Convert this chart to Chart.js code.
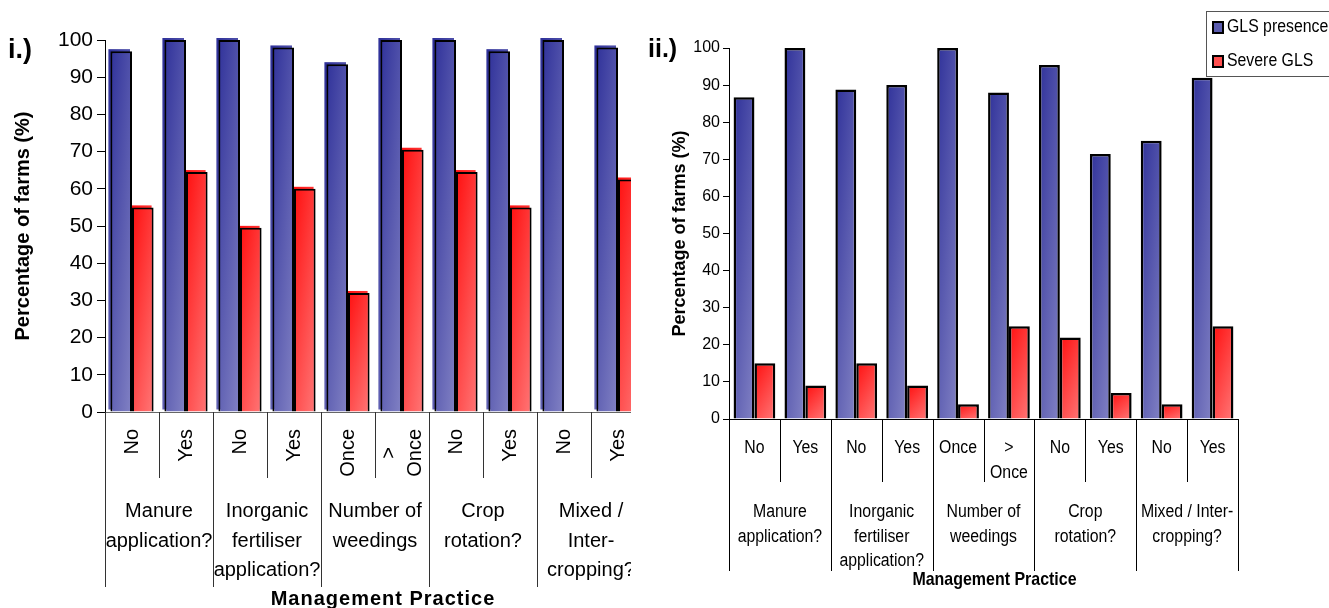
<!DOCTYPE html>
<html>
<head>
<meta charset="utf-8">
<script src="https://cdn.jsdelivr.net/npm/chart.js@4.4.1/dist/chart.umd.min.js"></script>
<style>
  html, body { margin: 0; padding: 0; background: #fff; }
  #wrapA { position: absolute; left: 0; top: 0; width: 631px; height: 608px; overflow: hidden; }
  #wrapB { position: absolute; left: 640px; top: 0; width: 689px; height: 608px; overflow: hidden; }
</style>
</head>
<body>
<div id="wrapA"><canvas id="chartA" width="660" height="608"></canvas></div>
<div id="wrapB"><canvas id="chartB" width="689" height="608"></canvas></div>
<script>
const subLabels = ["No", "Yes", "No", "Yes", "Once", [">", "Once"], "No", "Yes", "No", "Yes"];
const groupLabelsA = [
  ["Manure", "application?"],
  ["Inorganic", "fertiliser", "application?"],
  ["Number of", "weedings"],
  ["Crop", "rotation?"],
  ["Mixed /", "Inter-", "cropping?"],
];
const groupLabelsB = [
  ["Manure", "application?"],
  ["Inorganic", "fertiliser", "application?"],
  ["Number of", "weedings"],
  ["Crop", "rotation?"],
  ["Mixed / Inter-", "cropping?"],
];
const seriesNames = ["GLS presence", "Severe GLS"];
const presenceA = [97, 100, 100, 98, 93.5, 100, 100, 97, 100, 98];
const severeA = [55, 64.5, 49.5, 60, 32, 70.5, 64.5, 55, 0, 62.5];
const presenceB = [86.7, 100, 88.8, 90, 100, 88, 95.4, 71.4, 75, 92];
const severeB = [15, 9, 15, 9, 4, 25, 22, 7, 4, 25];
const panelTags = ["i.)", "ii.)"];
const xTitle = "Management Practice";
const yTitle = "Percentage of farms (%)";

const FONT = '"Liberation Sans", Arial, sans-serif';
const BLUE = ["#30329a", "#8282c4"];
const RED = ["#ff1010", "#ff7676"];
const SWATCH = ["#5b5cae", "#ff4f4f"];

// top-left dark to bottom-right light, part across the bar, part down it
function shade(stops, share) {
  return (c) => {
    const xs = c.chart.scales.x;
    const ys = c.chart.scales.y;
    if (!xs || !ys || c.dataIndex === undefined) return stops[0];
    const w = (xs.width / xs.getLabels().length) * share / 2;
    const mid = xs.getPixelForValue(c.dataIndex);
    const x0 = c.datasetIndex === 0 ? mid - w : mid;
    const top = ys.getPixelForValue(c.raw);
    const h = Math.max(ys.getPixelForValue(0) - top, 4);
    if (![x0, w, top, h].every(Number.isFinite) || w <= 0) return stops[0];
    const d = 1 / (0.16 / (w * w) + 0.36 / (h * h));
    const g = c.chart.ctx.createLinearGradient(x0, top, x0 + 0.4 * d / w, top + 0.6 * d / h);
    g.addColorStop(0, stops[0]);
    g.addColorStop(1, stops[1]);
    return g;
  };
}

function scaledText(ctx, text, x, y, sx) {
  ctx.save();
  ctx.translate(x, y);
  ctx.scale(sx, 1);
  ctx.fillText(text, 0, 0);
  ctx.restore();
}

// fill that sticks out up-left of the outlined bar (left panel look)
const raisedFace = {
  id: "raisedFace",
  beforeDatasetsDraw(chart, args, o) {
    if (!o.on) return;
    const ctx = chart.ctx;
    ctx.save();
    chart.data.datasets.forEach((ds, i) => {
      chart.getDatasetMeta(i).data.forEach((bar) => {
        const p = bar.getProps(["x", "y", "base", "width"], true);
        if (p.base - p.y < 1) return;
        ctx.fillStyle = bar.options.backgroundColor;
        ctx.fillRect(p.x - p.width / 2 - 2, p.y - 2, p.width, p.base - p.y);
      });
    });
    ctx.restore();
  },
};

// category labels, group labels, dividers and axis title under the x axis
const underAxis = {
  id: "underAxis",
  afterDraw(chart, args, o) {
    const xs = chart.scales.x;
    const ctx = chart.ctx;
    const labels = xs.getLabels();
    const n = labels.length;
    const step = xs.width / n;
    const y0 = xs.top;
    ctx.save();
    ctx.strokeStyle = o.lineColor;
    ctx.lineWidth = 1;
    for (let i = 0; i <= n; i++) {
      const x = Math.round(xs.left + i * step) + 0.5;
      ctx.beginPath();
      ctx.moveTo(x, y0);
      ctx.lineTo(x, y0 + (i % 2 === 0 ? o.longTick : o.shortTick));
      ctx.stroke();
    }
    ctx.fillStyle = "#000";
    ctx.font = o.subFont;
    labels.forEach((lab, i) => {
      const lines = [].concat(lab);
      const cx = xs.getPixelForValue(i);
      if (o.rotate) {
        const maxW = Math.max(...lines.map((t) => ctx.measureText(t).width));
        lines.forEach((t, j) => {
          const lx = cx + (j - (lines.length - 1) / 2) * o.subLH;
          ctx.save();
          ctx.translate(lx, o.subY + maxW / 2);
          ctx.rotate(-Math.PI / 2);
          ctx.textAlign = "center";
          ctx.textBaseline = "middle";
          ctx.fillText(t, 0, 0);
          ctx.restore();
        });
      } else {
        ctx.textAlign = "center";
        ctx.textBaseline = "alphabetic";
        lines.forEach((t, j) => scaledText(ctx, t, cx, o.subY + j * o.subLH, o.sx));
      }
    });
    ctx.font = o.groupFont;
    ctx.textAlign = "center";
    ctx.textBaseline = "alphabetic";
    o.groups.forEach((lines, g) => {
      const cx = (xs.getPixelForValue(2 * g) + xs.getPixelForValue(2 * g + 1)) / 2;
      lines.forEach((t, j) => scaledText(ctx, t, cx, o.groupY + j * o.groupLH, o.sx));
    });
    ctx.font = o.titleFont;
    if (o.spacing) ctx.letterSpacing = o.spacing;
    scaledText(ctx, o.title, xs.left + xs.width / 2 + o.titleShift, o.titleY, o.titleSx);
    ctx.restore();
  },
};

const cornerTag = {
  id: "cornerTag",
  afterDraw(chart, args, o) {
    const ctx = chart.ctx;
    ctx.save();
    ctx.font = o.font;
    ctx.fillStyle = "#000";
    ctx.fillText(o.text, o.x, o.y);
    ctx.restore();
  },
};

const boxLegend = {
  id: "boxLegend",
  afterDraw(chart, args, o) {
    if (!o.on) return;
    const ctx = chart.ctx;
    ctx.save();
    ctx.strokeStyle = "#555";
    ctx.lineWidth = 1;
    ctx.fillStyle = "#fff";
    ctx.fillRect(o.x, o.y, o.w, o.h);
    ctx.strokeRect(o.x + 0.5, o.y + 0.5, o.w, o.h);
    ctx.font = o.font;
    ctx.textBaseline = "middle";
    chart.data.datasets.forEach((ds, i) => {
      const y = o.y + o.first + i * o.gap;
      ctx.fillStyle = SWATCH[i];
      ctx.fillRect(o.x + 7, y - 5, 10, 11);
      ctx.strokeStyle = "#000";
      ctx.lineWidth = 2;
      ctx.strokeRect(o.x + 7, y - 5, 10, 11);
      ctx.fillStyle = "#000";
      scaledText(ctx, ds.label, o.x + 21, y, o.sx);
    });
    ctx.restore();
  },
};

function makeChart(id, cfg) {
  return new Chart(document.getElementById(id), {
    type: "bar",
    data: {
      labels: subLabels,
      datasets: [
        {
          label: seriesNames[0],
          data: cfg.presence,
          backgroundColor: shade(BLUE, cfg.share),
          borderColor: "#000",
          borderWidth: cfg.border,
        },
        {
          label: seriesNames[1],
          data: cfg.severe,
          backgroundColor: shade(RED, cfg.share),
          borderColor: "#000",
          borderWidth: cfg.border,
        },
      ],
    },
    options: {
      responsive: false,
      animation: false,
      events: [],
      categoryPercentage: cfg.share,
      barPercentage: 1,
      layout: { padding: cfg.padding },
      plugins: {
        legend: { display: false },
        tooltip: { enabled: false },
        raisedFace: { on: cfg.raised },
        underAxis: cfg.under,
        cornerTag: cfg.tag,
        boxLegend: cfg.legend,
      },
      scales: {
        x: {
          grid: { display: false, drawTicks: false },
          ticks: { display: false },
          border: { color: cfg.baseColor },
        },
        y: {
          min: 0,
          max: 100,
          afterFit: (scale) => { scale.width = cfg.axisWidth; },
          ticks: { stepSize: 10, color: "#000", padding: cfg.tickPad, font: { family: FONT, size: cfg.tickSize } },
          grid: { drawOnChartArea: false, drawTicks: true, tickLength: cfg.tickLen, color: "#000" },
          border: { color: "#000" },
          title: {
            display: true,
            text: yTitle,
            color: "#000",
            font: { family: FONT, size: cfg.titleSize, weight: "bold" },
            padding: { top: cfg.titlePad, bottom: 0 },
          },
        },
      },
    },
    plugins: [raisedFace, underAxis, cornerTag, boxLegend],
  });
}

makeChart("chartA", {
  presence: presenceA,
  severe: severeA,
  share: 0.8,
  border: 2,
  raised: true,
  padding: { left: 0, right: 15, top: 40, bottom: 196 },
  axisWidth: 105,
  tickPad: 4,
  tickLen: 8,
  tickSize: 21,
  titleSize: 20,
  titlePad: 11,
  baseColor: "#666",
  tag: { text: panelTags[0], x: 8, y: 58, font: "bold 27px " + FONT },
  legend: { on: false },
  under: {
    rotate: true,
    sx: 1,
    subFont: "20px " + FONT,
    subY: 429,
    subLH: 26,
    groups: groupLabelsA,
    groupFont: "20px " + FONT,
    groupY: 517,
    groupLH: 29.5,
    shortTick: 66,
    longTick: 175,
    lineColor: "#333",
    title: xTitle,
    titleFont: "bold 20px " + FONT,
    titleSx: 1,
    spacing: "1px",
    titleY: 605,
    titleShift: 8,
  },
});

makeChart("chartB", {
  presence: presenceB,
  severe: severeB,
  share: 0.82,
  border: 2.5,
  raised: false,
  padding: { left: 0, right: 91, top: 48, bottom: 189 },
  axisWidth: 89,
  tickPad: 3,
  tickLen: 6,
  tickSize: 16,
  titleSize: 18,
  titlePad: 29,
  baseColor: "#000",
  tag: { text: panelTags[1], x: 8, y: 57, font: "bold 25px " + FONT },
  legend: { on: true, x: 566, y: 11, w: 200, h: 65, first: 16, gap: 34, font: "18px " + FONT, sx: 0.88 },
  under: {
    rotate: false,
    sx: 0.88,
    subFont: "18px " + FONT,
    subY: 453,
    subLH: 25,
    groups: groupLabelsB,
    groupFont: "18px " + FONT,
    groupY: 517,
    groupLH: 24.5,
    shortTick: 63,
    longTick: 152,
    lineColor: "#000",
    title: xTitle,
    titleFont: "bold 19px " + FONT,
    titleSx: 0.84,
    spacing: "",
    titleY: 585,
    titleShift: 11,
  },
});
</script>
</body>
</html>
